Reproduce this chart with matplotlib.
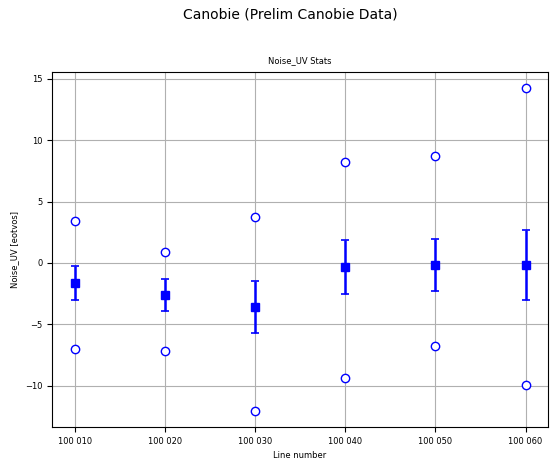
import matplotlib

matplotlib.use("Agg")
import matplotlib.pyplot as plt
from matplotlib.ticker import FuncFormatter

lines = [100010, 100020, 100030, 100040, 100050, 100060]
mean_vals = [-1.63, -2.6, -3.58, -0.33, -0.15, -0.15]
std_vals = [1.35, 1.3, 2.1, 2.2, 2.1, 2.85]
max_vals = [3.42, 0.9, 3.75, 8.22, 8.7, 14.25]
min_vals = [-7.0, -7.17, -12.05, -9.36, -6.76, -9.93]

fig = plt.figure(figsize=(5.57, 4.70), dpi=100)
ax = fig.add_axes([0.0934, 0.0915, 0.8906, 0.7555])
fig.suptitle("Canobie (Prelim Canobie Data)", fontsize=10, x=0.522, y=0.985)

ax.errorbar(lines, mean_vals, yerr=std_vals, fmt="s", color="blue",
            markersize=6, elinewidth=1.8, capsize=3, capthick=1.2, zorder=3)
ax.plot(lines, max_vals, "o", markerfacecolor="white", markeredgecolor="blue",
        markersize=6, markeredgewidth=1.0, zorder=3)
ax.plot(lines, min_vals, "o", markerfacecolor="white", markeredgecolor="blue",
        markersize=6, markeredgewidth=1.0, zorder=3)

ax.set_xticks(lines)
ax.xaxis.set_major_formatter(FuncFormatter(lambda v, p: f"{int(v):,}".replace(",", " ")))
ax.set_title("Noise_UV Stats", fontsize=6)
ax.set_xlabel("Line number", fontsize=6)
ax.set_ylabel("Noise_UV [eotvos]", fontsize=6)
ax.tick_params(labelsize=6)
ax.grid(True, color="#b0b0b0", linewidth=0.8)
ax.set_axisbelow(True)

fig.savefig("out.png", dpi=100)
